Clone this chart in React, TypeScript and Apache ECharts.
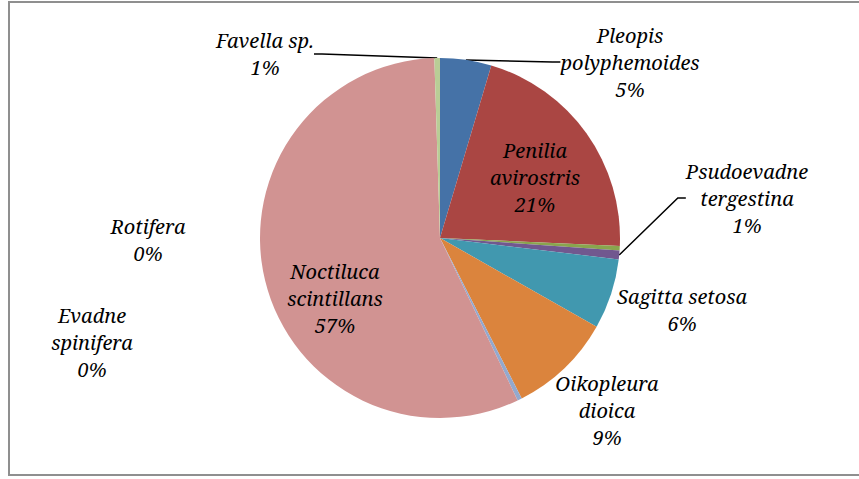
import React, { useEffect, useRef } from "react";
import * as echarts from "echarts";

const categories = [
  "Pleopis\npolyphemoides",
  "Penilia\navirostris",
  "Evadne\nspinifera",
  "Psudoevadne\ntergestina",
  "Sagitta setosa",
  "Oikopleura\ndioica",
  "Rotifera",
  "Noctiluca\nscintillans",
  "Favella sp.",
];
const values = [4.6, 21.1, 0.4, 0.8, 6.3, 9.3, 0.4, 56.6, 0.5];
const colors = ["#4572A7", "#AA4643", "#89A54E", "#71588F", "#4198AF", "#DB843D", "#93A9CF", "#D19392", "#B9CD96"];

const labelPos: [number, number][] = [
  [630, 62],
  [535, 177],
  [92, 342],
  [747, 198],
  [682, 310],
  [607, 410],
  [148, 240],
  [335, 298],
  [265, 54],
];
const insideIdx = [1, 7];
const lineIdx = [0, 3, 8];

const FONT = "Noto Serif";

export default function App() {
  const ref = useRef<HTMLDivElement>(null);
  useEffect(() => {
    document.body.style.margin = "0";
    const chart = echarts.init(ref.current!, null, { renderer: "svg" });
    const total = values.reduce((a, b) => a + b, 0);
    const pct = (v: number) => `${Math.round((v / total) * 100 + 1e-9)}%`;
    chart.setOption({
      animation: false,
      backgroundColor: "#ffffff",
      graphic: [
        {
          type: "rect",
          shape: { x: 9, y: 2, width: 870, height: 473 },
          style: { fill: "none", stroke: "#8f8f8f", lineWidth: 2 },
          silent: true,
        },
      ],
      series: [
        {
          type: "pie",
          center: [440, 238],
          radius: 180,
          startAngle: 90,
          clockwise: true,
          avoidLabelOverlap: false,
          itemStyle: { borderWidth: 0 },
          data: categories.map((name, i) => ({
            name,
            value: values[i],
            itemStyle: { color: colors[i] },
            label: { position: insideIdx.includes(i) ? "inside" : "outside" },
            labelLine: { show: lineIdx.includes(i) },
          })),
          label: {
            show: true,
            formatter: (p: any) => `${p.name}\n${pct(p.value)}`,
            fontFamily: FONT,
            fontStyle: "italic",
            fontSize: 20,
            lineHeight: 27,
            color: "#000",
            align: "center",
          },
          labelLine: {
            show: true,
            lineStyle: { color: "#000", width: 1.5 },
            length: 10,
            length2: 8,
          },
          labelLayout: (params: any) => {
            const p = labelPos[params.dataIndex];
            return { x: p[0], y: p[1], align: "center", verticalAlign: "middle" };
          },
        },
      ],
    });
    return () => chart.dispose();
  }, []);
  return <div ref={ref} style={{ width: 859, height: 479 }} />;
}
